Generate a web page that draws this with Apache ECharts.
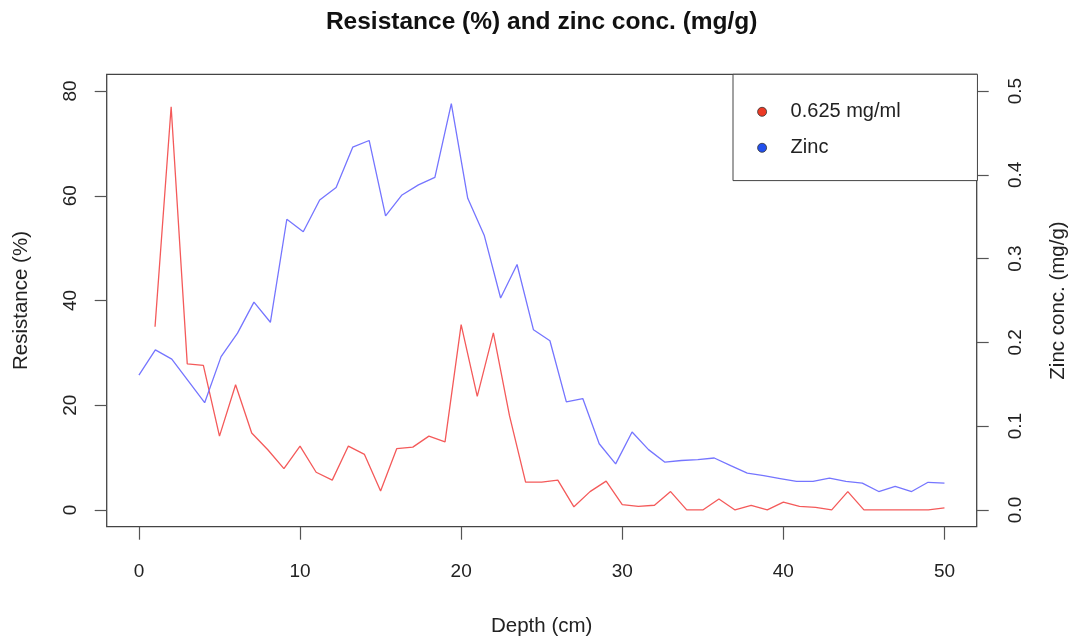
<!DOCTYPE html>
<html>
<head>
<meta charset="utf-8">
<script src="https://cdn.jsdelivr.net/npm/echarts@6/dist/echarts.min.js"></script>
<style>
  html, body { margin: 0; padding: 0; background: #fff; }
  #chart { width: 1074px; height: 641px; }
</style>
</head>
<body>
<div id="chart"></div>
<script>
// Resistance at each sampled depth (cm)
const resDepth = [1, 2, 3, 4, 5, 6, 7, 8, 9, 10, 11, 12, 13, 14, 15, 16, 17, 18, 19, 20,
  21, 22, 23, 24, 25, 26, 27, 28, 29, 30, 31, 32, 33, 34, 35, 36, 37, 38, 39, 40,
  41, 42, 43, 44, 45, 46, 47, 48, 49, 50];
const resistance = [35.0, 77.0, 27.9, 27.6, 14.1, 23.9, 14.7, 11.5, 7.9, 12.2,
  7.2, 5.7, 12.2, 10.6, 3.6, 11.7, 12.0, 14.1, 13.0, 35.4,
  21.7, 33.8, 18.0, 5.3, 5.3, 5.7, 0.6, 3.5, 5.5, 1.0,
  0.7, 0.9, 3.5, 0, 0, 2.1, 0, 0.85, 0, 1.5,
  0.7, 0.5, 0, 3.5, 0, 0, 0, 0, 0, 0.4];

// Zinc concentration (mg/g) over the same core
const zincDepth = [0, 1.02, 2.04, 3.06, 4.08, 5.10, 6.12, 7.14, 8.16, 9.18,
  10.20, 11.22, 12.24, 13.27, 14.29, 15.31, 16.33, 17.35, 18.37, 19.39,
  20.41, 21.43, 22.45, 23.47, 24.49, 25.51, 26.53, 27.55, 28.57, 29.59,
  30.61, 31.63, 32.65, 33.67, 34.69, 35.71, 36.73, 37.76, 38.78, 39.80,
  40.82, 41.84, 42.86, 43.88, 44.90, 45.92, 46.94, 47.96, 48.98, 50];
const zinc = [0.161, 0.191, 0.180, 0.154, 0.128, 0.183, 0.211, 0.248, 0.224, 0.347,
  0.332, 0.370, 0.385, 0.433, 0.441, 0.351, 0.376, 0.388, 0.397, 0.485,
  0.372, 0.328, 0.253, 0.293, 0.215, 0.202, 0.129, 0.133, 0.079, 0.055,
  0.093, 0.072, 0.057, 0.059, 0.060, 0.062, 0.053, 0.044, 0.041, 0.0375,
  0.034, 0.034, 0.038, 0.034, 0.032, 0.022, 0.028, 0.022, 0.033, 0.032];

// Tick positions
const depthTicks = [0, 10, 20, 30, 40, 50];
const resTicks = [0, 20, 40, 60, 80];
const zincTicks = [0, 0.1, 0.2, 0.3, 0.4, 0.5];

const FONT = "'Liberation Sans', Arial, Helvetica, sans-serif";
const INK = '#222';
const TICK = '#555';

const pairs = (xs, ys) => xs.map((x, i) => [x, ys[i]]);

const chart = echarts.init(document.getElementById('chart'), null, { renderer: 'canvas' });

chart.setOption({
  animation: false,
  backgroundColor: '#fff',
  textStyle: { fontFamily: FONT },
  title: {
    text: 'Resistance (%) and zinc conc. (mg/g)',
    left: 541.7,
    top: 10,
    padding: 0,
    textAlign: 'center',
    textStyle: { fontFamily: FONT, fontSize: 24.5, fontWeight: 'bold', color: '#111' }
  },
  grid: {
    left: 106.7, right: 97.3, top: 74.3, bottom: 114.3,
    outerBoundsMode: 'none',
    containLabel: false,
    show: true, borderColor: '#444', borderWidth: 1.3, backgroundColor: 'transparent'
  },
  legend: {
    orient: 'vertical',
    left: 733,
    top: 74.3,
    padding: [27.5, 76.8, 22.8, 24.2],
    itemWidth: 9,
    itemHeight: 9,
    itemGap: 16,
    borderColor: '#444',
    borderWidth: 1,
    backgroundColor: '#fff',
    selectedMode: false,
    textStyle: { fontFamily: FONT, fontSize: 20, color: INK, lineHeight: 18, padding: [0, 0, 0, 19] },
    data: [
      { name: '0.625 mg/ml', icon: 'circle', itemStyle: { color: '#ec3a25', borderColor: '#333', borderWidth: 0.8 } },
      { name: 'Zinc', icon: 'circle', itemStyle: { color: '#2250ee', borderColor: '#333', borderWidth: 0.8 } }
    ]
  },
  xAxis: {
    type: 'value',
    min: -2, max: 52,
    name: 'Depth (cm)',
    nameLocation: 'middle',
    nameGap: 89,
    nameTextStyle: { fontFamily: FONT, fontSize: 20.5, color: INK, verticalAlign: 'top' },
    axisLine: { show: false, onZero: false },
    splitLine: { show: false },
    axisTick: { show: true, length: 13, lineStyle: { color: TICK, width: 1.2 }, customValues: depthTicks },
    axisLabel: { margin: 36, fontSize: 19, color: INK, fontFamily: FONT, customValues: depthTicks }
  },
  yAxis: [
    {
      type: 'value',
      position: 'left',
      min: -3.2, max: 83.2,
      name: 'Resistance (%)',
      nameLocation: 'middle',
      nameGap: 75,
      nameTextStyle: { fontFamily: FONT, fontSize: 20.5, color: INK },
      axisLine: { show: false, onZero: false },
      splitLine: { show: false },
      axisTick: { show: true, length: 12, lineStyle: { color: TICK, width: 1.2 }, customValues: resTicks },
      axisLabel: { rotate: 90, margin: 26, fontSize: 19, color: INK, fontFamily: FONT, customValues: resTicks }
    },
    {
      type: 'value',
      position: 'right',
      min: -0.02, max: 0.52,
      name: 'Zinc conc. (mg/g)',
      nameLocation: 'middle',
      nameGap: 71,
      nameTextStyle: { fontFamily: FONT, fontSize: 20.5, color: INK },
      axisLine: { show: false, onZero: false },
      splitLine: { show: false },
      axisTick: { show: true, length: 12, lineStyle: { color: TICK, width: 1.2 }, customValues: zincTicks },
      axisLabel: {
        rotate: 90, margin: 30, fontSize: 19, color: INK, fontFamily: FONT,
        customValues: zincTicks,
        formatter: v => v.toFixed(1)
      }
    }
  ],
  series: [
    {
      name: '0.625 mg/ml',
      type: 'line',
      yAxisIndex: 0,
      data: pairs(resDepth, resistance),
      showSymbol: false,
      symbol: 'none',
      lineStyle: { color: '#f45a5a', width: 1.3 },
      itemStyle: { color: '#ec3a25' },
      z: 3
    },
    {
      name: 'Zinc',
      type: 'line',
      yAxisIndex: 1,
      data: pairs(zincDepth, zinc),
      showSymbol: false,
      symbol: 'none',
      lineStyle: { color: '#7575ff', width: 1.3 },
      itemStyle: { color: '#2250ee' },
      z: 3
    }
  ]
});
</script>
</body>
</html>
